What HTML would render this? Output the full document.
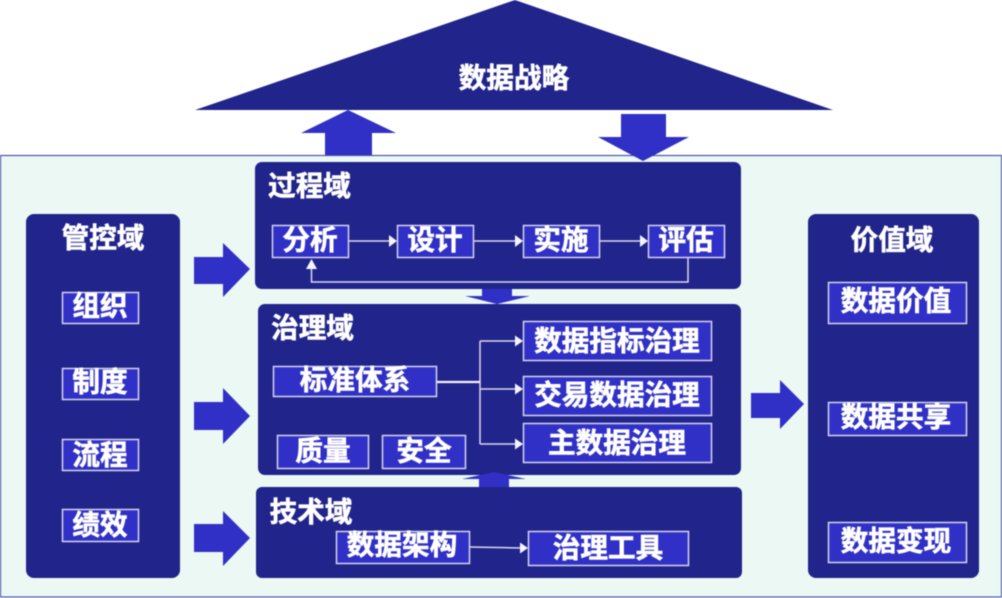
<!DOCTYPE html>
<html lang="zh">
<head>
<meta charset="utf-8">
<style>
html,body{margin:0;padding:0;background:#fff;width:1002px;height:598px;overflow:hidden}
svg{display:block;filter:blur(.4px)}
text{font-family:"Liberation Sans","Noto Sans CJK SC",sans-serif;font-weight:700;font-size:27.6px;fill:#fff;text-anchor:middle;stroke:#fff;stroke-width:.6px;transform:translateY(-.6px)}
.d{fill:#21248a}
.a{fill:#3030c6}
.b{fill:#3030c6;stroke:#d4d4ec;stroke-width:1.5}
.l{fill:none;stroke:#d8d8ee;stroke-width:1.5}
.h{fill:#f4f4fc}
</style>
</head>
<body>
<svg width="1002" height="598" viewBox="0 0 1002 598" xmlns="http://www.w3.org/2000/svg">
<rect x="0.5" y="155.5" width="1001" height="441.5" fill="#ecf8f3" stroke="#4a55a8" stroke-width="1.2"/>
<polygon class="d" points="515,0 833,110 195,110"/>
<polygon class="a" points="348,110 396,133 372,133 372,155 325,155 325,133 301,133"/>
<polygon class="a" points="621,114 666,114 666,137 689,137 643,161 598,137 621,137"/>

<rect class="d" x="26" y="214" width="154" height="364" rx="8"/>
<rect class="d" x="808" y="214" width="171" height="364" rx="8"/>
<rect class="d" x="255" y="162" width="486" height="127" rx="7"/>
<rect class="d" x="258" y="304" width="483" height="171" rx="7"/>
<rect class="d" x="256" y="487" width="486" height="91" rx="6"/>

<polygon class="a" points="482,289 512,289 512,296 530,296 497,304 465,296 482,296"/>
<polygon class="a" points="494,472 526,479 509,479 509,487 479,487 479,479 462,479"/>

<polygon class="a" points="194,257 223,257 223,243 250,269 223,297 223,284 194,284"/>
<polygon class="a" points="194,402 223,402 223,388 250,416 223,444 223,430 194,430"/>
<polygon class="a" points="194,524 223,524 223,511 250,538 223,566 223,552 194,552"/>
<polygon class="a" points="751,393 780,393 780,380 804,404 780,429 780,418 751,418"/>

<text x="514" y="88">数据战略</text>
<text x="309.500" y="196">过程域</text>
<text x="312.500" y="338">治理域</text>
<text x="311" y="522">技术域</text>
<text x="103" y="248">管控域</text>
<text x="892" y="250">价值域</text>

<rect class="b" x="272.500" y="225.500" width="76" height="32"/>
<rect class="b" x="397.500" y="225.500" width="76" height="32"/>
<rect class="b" x="523.500" y="225.500" width="76" height="32"/>
<rect class="b" x="648.500" y="225.500" width="76" height="32"/>
<text x="310" y="250">分析</text>
<text x="435" y="250">设计</text>
<text x="561" y="250">实施</text>
<text x="686" y="250">评估</text>

<path class="l" d="M349 241H391M474 241H517M600 241H642M688 258V282H311.500V268"/>
<polygon class="h" points="397,241 389,235 389,247"/>
<polygon class="h" points="523,241 515,235 515,247"/>
<polygon class="h" points="648,241 640,235 640,247"/>
<polygon class="h" points="311.500,259 306,269 317,269"/>

<rect class="b" x="273.500" y="366.500" width="163" height="30"/>
<rect class="b" x="277.500" y="435.500" width="91" height="33"/>
<rect class="b" x="382.500" y="435.500" width="83" height="33"/>
<rect class="b" x="523.500" y="321.500" width="188" height="39"/>
<rect class="b" x="523.500" y="376.500" width="188" height="39"/>
<rect class="b" x="523.500" y="423.500" width="188" height="39"/>
<text x="355" y="390">标准体系</text>
<text x="323" y="461">质量</text>
<text x="424" y="461">安全</text>
<text x="617" y="351">数据指标治理</text>
<text x="617" y="405">交易数据治理</text>
<text x="617" y="453">主数据治理</text>

<path class="l" d="M480 341V444M480 341H517M480 389H517M480 444H517"/>
<path d="M437 382H480" fill="none" stroke="#f4f4fc" stroke-width="2.200"/>
<polygon class="h" points="523,341 515,335.500 515,346.500"/>
<polygon class="h" points="523,389 515,383.500 515,394.500"/>
<polygon class="h" points="523,444 515,438.500 515,449.500"/>

<rect class="b" x="336.500" y="531.500" width="133" height="32"/>
<rect class="b" x="528.500" y="531.500" width="160" height="34"/>
<text x="402" y="555">数据架构</text>
<text x="608" y="558">治理工具</text>
<path class="l" d="M470 547L522 548"/>
<polygon class="h" points="528,548 520,542.500 520,553.500"/>

<rect class="b" x="62.500" y="292.500" width="76" height="31"/>
<rect class="b" x="62.500" y="368.500" width="76" height="31"/>
<rect class="b" x="62.500" y="439.500" width="76" height="31"/>
<rect class="b" x="62.500" y="509.500" width="76" height="32"/>
<text x="100" y="316">组织</text>
<text x="100" y="392">制度</text>
<text x="100" y="465">流程</text>
<text x="100" y="535">绩效</text>

<rect class="b" x="828.500" y="282.500" width="138" height="41"/>
<rect class="b" x="828.500" y="402.500" width="138" height="33"/>
<rect class="b" x="828.500" y="522.500" width="138" height="40"/>
<text x="896" y="311">数据价值</text>
<text x="896" y="427">数据共享</text>
<text x="896" y="551">数据变现</text>
</svg>
</body>
</html>
